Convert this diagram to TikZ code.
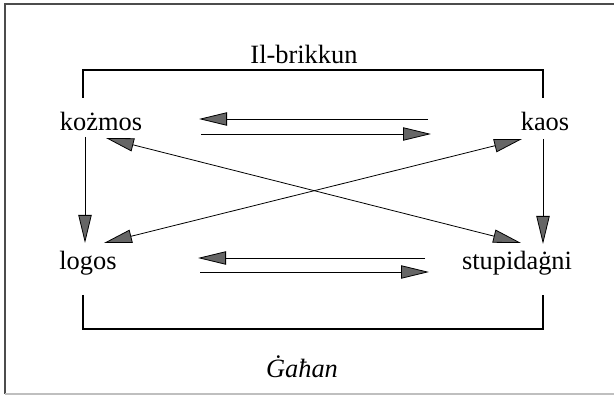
\documentclass[tikz,border=0pt]{standalone}
\usepackage{fontspec}
\setmainfont{Liberation Serif}
\usetikzlibrary{arrows.meta}
\begin{document}
\begin{tikzpicture}[x=0.75pt,y=-0.75pt,
  word/.style={anchor=base,inner sep=0pt,font=\fontsize{19.8}{24}\selectfont},
  arr/.style={line width=0.6pt,-{Triangle[length=21pt,width=10pt,fill=black!60]}},
  darr/.style={line width=0.6pt,{Triangle[length=21pt,width=10pt,fill=black!60]}-{Triangle[length=21pt,width=10pt,fill=black!60]}},
  brack/.style={line width=0.8pt},
  frame/.style={line width=1.1pt,draw=black!70}]
\useasboundingbox (0,0) rectangle (614,395);
% frame
\draw[frame] (614,4) -- (5,4) -- (5,394);
\draw[line width=1.1pt,draw=black!25] (5,394) -- (614,394);
% words
\node[word] (kozmos) at (101,131) {kożmos};
\node[word] (kaos) at (545,131) {kaos};
\node[word] (logos) at (88,270) {logos};
\node[word] (stupid) at (517,270) {stupidaġni};
\node[word] (brikkun) at (304,64) {Il-brikkun};
\node[word,font=\fontsize{19.8}{24}\selectfont\itshape] (gahan) at (302,377) {Ġaħan};
% connector end points
\coordinate (k1) at (199,119); \coordinate (k2) at (201,134);
\coordinate (a1) at (428,119); \coordinate (a2) at (431,134);
\coordinate (l1) at (198,258); \coordinate (l2) at (200,272);
\coordinate (s1) at (425,258); \coordinate (s2) at (429,272);
\coordinate (kd) at (85,137); \coordinate (ld) at (85,243);
\coordinate (ad) at (543,139); \coordinate (sd) at (543,244);
\coordinate (kx) at (106,138); \coordinate (sx) at (521,243);
\coordinate (ax) at (522,139); \coordinate (lx) at (104,243);
\coordinate (bt1) at (83,98); \coordinate (bt2) at (543,98);
\coordinate (bb1) at (83,295); \coordinate (bb2) at (543,295);
% brackets
\draw[brack] (bt1) -- (bt1 |- 0,70) -- (bt2 |- 0,70) -- (bt2);
\draw[brack] (bb1) -- (bb1 |- 0,329) -- (bb2 |- 0,329) -- (bb2);
% arrows
\draw[arr] (a1) -- (k1);
\draw[arr] (k2) -- (a2);
\draw[arr] (s1) -- (l1);
\draw[arr] (l2) -- (s2);
\draw[arr] (kd) -- (ld);
\draw[arr] (ad) -- (sd);
\draw[darr] (kx) -- (sx);
\draw[darr] (ax) -- (lx);
\end{tikzpicture}
\end{document}
